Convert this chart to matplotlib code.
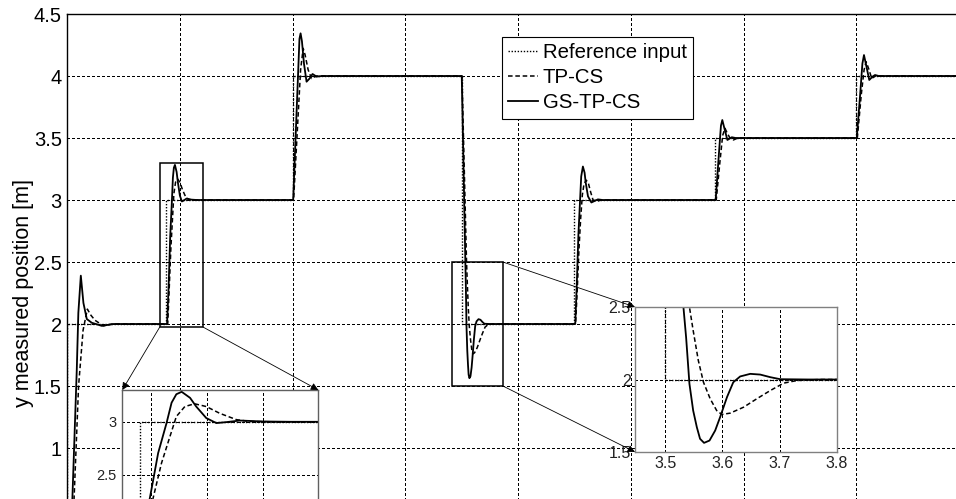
import matplotlib
matplotlib.use('Agg')
import matplotlib.pyplot as plt
from matplotlib.patches import Rectangle, ConnectionPatch
from matplotlib.ticker import FormatStrFormatter, FixedLocator

plt.rcParams['font.family'] = ['Liberation Sans', 'DejaVu Sans']

# ---------------- data ----------------
# reference input (step signal)
ref_t = [0.0, 0.0, 0.88, 2.0, 3.5, 4.5, 5.745, 7.0, 8.0]
ref_y = [0.0, 2.0, 3.0, 4.0, 2.0, 3.0, 3.5, 4.0, 4.0]

# GS-TP-CS (solid)
gs_t = [0.0, 0.02, 0.045, 0.084, 0.098, 0.12, 0.143, 0.173, 0.217, 0.306, 0.41,
        0.885, 0.8982, 0.913, 0.928, 0.937, 0.9455, 0.955, 0.970, 0.981, 0.999, 1.017, 1.035, 1.059, 1.10, 1.15,
        2.004, 2.06, 2.07, 2.082, 2.10, 2.123, 2.15, 2.176, 2.212, 2.26,
        3.50, 3.532, 3.5367, 3.5425, 3.549, 3.5554, 3.561, 3.568, 3.5775, 3.5874, 3.596, 3.608, 3.619,
        3.631, 3.6486, 3.666, 3.6836, 3.701, 3.75,
        4.507, 4.52, 4.535, 4.55, 4.56, 4.575, 4.59, 4.60, 4.62, 4.65, 4.708, 4.75,
        5.753, 5.78, 5.80, 5.812, 5.83, 5.857, 5.896, 5.93,
        7.005, 7.035, 7.055, 7.069, 7.09, 7.116, 7.145, 7.167, 7.2, 8.0]
gs_y = [0.0, 0.0, 0.59, 1.63, 2.09, 2.39, 2.17, 2.04, 2.01, 1.985, 2.0,
        2.0, 2.28, 2.705, 2.988, 3.18, 3.26, 3.283, 3.226, 3.144, 3.035, 2.988, 2.997, 3.012, 3.003, 3.0,
        3.0, 4.30, 4.344, 4.28, 4.10, 3.954, 3.98, 4.016, 3.995, 4.0,
        4.0, 2.5, 2.29, 1.97, 1.786, 1.671, 1.591, 1.563, 1.579, 1.648, 1.74, 1.878, 1.981,
        2.021, 2.039, 2.034, 2.016, 2.002, 2.0,
        2.0, 2.3, 2.72, 3.0, 3.19, 3.27, 3.22, 3.14, 3.03, 2.98, 3.005, 3.0,
        3.0, 3.35, 3.60, 3.645, 3.58, 3.484, 3.506, 3.5,
        3.5, 3.85, 4.10, 4.169, 4.08, 3.968, 3.995, 4.008, 4.0, 4.0]

# TP-CS (dashed)
tp_t = [0.0, 0.025, 0.06, 0.10, 0.14, 0.178, 0.21, 0.246, 0.32, 0.40,
        0.891, 0.904, 0.919, 0.934, 0.9455, 0.9607, 0.978, 0.999, 1.023, 1.053, 1.077, 1.12,
        2.008, 2.07, 2.093, 2.11, 2.137, 2.167, 2.212, 2.26,
        3.502, 3.5425, 3.549, 3.558, 3.567, 3.5787, 3.590, 3.599, 3.6136, 3.637, 3.660, 3.6836,
        3.707, 3.73, 3.77,
        4.51, 4.525, 4.54, 4.555, 4.57, 4.585, 4.605, 4.625, 4.645, 4.665, 4.70, 4.74,
        5.758, 5.79, 5.815, 5.836, 5.855, 5.88, 5.91, 5.95,
        7.01, 7.045, 7.07, 7.088, 7.11, 7.138, 7.17, 8.0]
tp_y = [0.0, 0.0, 0.59, 1.5, 1.95, 2.12, 2.07, 2.03, 1.985, 2.0,
        2.0, 2.28, 2.61, 2.86, 3.05, 3.144, 3.17, 3.144, 3.08, 3.02, 3.003, 3.0,
        3.0, 4.05, 4.223, 4.17, 4.05, 3.98, 4.0, 4.0,
        4.0, 2.5, 2.338, 2.131, 1.981, 1.867, 1.786, 1.759, 1.768, 1.809, 1.867, 1.924,
        1.975, 1.993, 2.0,
        2.0, 2.28, 2.6, 2.85, 3.04, 3.13, 3.16, 3.13, 3.06, 3.0, 2.99, 3.0,
        3.0, 3.3, 3.52, 3.578, 3.54, 3.5, 3.484, 3.5,
        3.5, 3.85, 4.05, 4.115, 4.06, 3.98, 4.0, 4.0]

labels = ['Reference input', 'TP-CS', 'GS-TP-CS']
yticks_main = [1, 1.5, 2, 2.5, 3, 3.5, 4, 4.5]
xticks_main = [0, 1, 2, 3, 4, 5, 6, 7, 8]

# zoom boxes (data coords) and inset ranges
box1 = (0.82, 1.975, 1.205, 3.30)
box2 = (3.41, 1.50, 3.865, 2.50)
ins1_xlim, ins1_ylim = (0.849, 1.199), (1.98, 3.30)
ins2_xlim, ins2_ylim = (3.4475, 3.8), (1.5, 2.5)
ins1_xticks, ins1_yticks = [0.9, 1.0, 1.1, 1.2], [2.5, 3]
ins2_xticks, ins2_yticks = [3.5, 3.6, 3.7, 3.8], [1.5, 2, 2.5]

# ---------------- figure ----------------
W, H = 956, 499
fig = plt.figure(figsize=(W / 100, H / 100), dpi=100)


def px_rect(l, t, r, b):
    return [l / W, 1 - b / H, (r - l) / W, (b - t) / H]


GRID = dict(color='k', linestyle=(0, (2.2, 2.2)), linewidth=0.7, antialiased=False)
REF_STYLE = dict(color='k', linestyle=(0, (1, 1.2)), linewidth=1.0, drawstyle='steps-post')
TP_STYLE = dict(color='k', linestyle=(0, (3, 1.8)), linewidth=1.1)
GS_STYLE = dict(color='k', linestyle='-', linewidth=1.3)


def draw_series(a):
    l1, = a.plot(ref_t, ref_y, **REF_STYLE)
    l2, = a.plot(tp_t, tp_y, **TP_STYLE)
    l3, = a.plot(gs_t, gs_y, **GS_STYLE)
    return l1, l2, l3


ax = fig.add_axes(px_rect(67.3, 14, 67.3 + 8 * 112.7, 572))
h = draw_series(ax)
ax.set_xlim(0, 8)
ax.set_ylim(0, 4.5)
ax.yaxis.set_major_locator(FixedLocator(yticks_main))
ax.xaxis.set_major_locator(FixedLocator(xticks_main))
ax.yaxis.set_major_formatter(FormatStrFormatter('%g'))
ax.grid(True, **GRID)
ax.tick_params(length=0, labelsize=14.5, pad=4)
ax.tick_params(axis='x', labelbottom=False)
for s in ax.spines.values():
    s.set_linewidth(1.0)
ax.set_ylabel('y measured position [m]', fontsize=15.5)
ax.yaxis.set_label_coords(-0.037, 0.5)

for (x0, y0, x1, y1) in (box1, box2):
    ax.add_patch(Rectangle((x0, y0), x1 - x0, y1 - y0, fill=False, ec='k', lw=1.1, zorder=5))

leg = ax.legend(h, labels, loc='upper left', bbox_to_anchor=(502 / W, 1 - 37 / H),
                bbox_transform=fig.transFigure, borderaxespad=0, fontsize=14.7,
                handlelength=1.45, handletextpad=0.25, borderpad=0.3, labelspacing=0.3,
                fancybox=False, framealpha=1, edgecolor='k')
leg.get_frame().set_linewidth(0.8)

# inset 1
ax1 = fig.add_axes(px_rect(122.3, 390, 318.3, 390 + (ins1_ylim[1] - ins1_ylim[0]) * 106))
draw_series(ax1)
ax1.set_xlim(*ins1_xlim)
ax1.set_ylim(*ins1_ylim)
ax1.xaxis.set_major_locator(FixedLocator(ins1_xticks))
ax1.yaxis.set_major_locator(FixedLocator(ins1_yticks))
ax1.yaxis.set_major_formatter(FormatStrFormatter('%g'))
ax1.grid(True, **GRID)
ax1.tick_params(length=0, labelsize=10.5, pad=4, labelcolor='#222222')
ax1.tick_params(axis='x', labelbottom=False)
for s in ax1.spines.values():
    s.set_color('#606060')
    s.set_linewidth(1.0)

# inset 2
ax2 = fig.add_axes(px_rect(635, 307, 837, 452))
draw_series(ax2)
ax2.set_xlim(*ins2_xlim)
ax2.set_ylim(*ins2_ylim)
ax2.xaxis.set_major_locator(FixedLocator(ins2_xticks))
ax2.yaxis.set_major_locator(FixedLocator(ins2_yticks))
ax2.yaxis.set_major_formatter(FormatStrFormatter('%g'))
ax2.xaxis.set_major_formatter(FormatStrFormatter('%g'))
ax2.grid(True, **GRID)
ax2.tick_params(length=0, labelsize=11.5, pad=3, labelcolor='#222222')
for s in ax2.spines.values():
    s.set_color('#808080')
    s.set_linewidth(1.0)

# connector arrows
conns = [((box1[0], box1[1]), ax1, (0, 1)),
         ((box1[2], box1[1]), ax1, (1, 1)),
         ((box2[2], box2[3]), ax2, (0, 1)),
         ((box2[2], box2[1]), ax2, (0, 0))]
for xyA, axB, xyB in conns:
    cp = ConnectionPatch(xyA=xyA, coordsA=ax.transData, xyB=xyB, coordsB=axB.transAxes,
                         arrowstyle='-|>', color='k', lw=0.6, mutation_scale=11,
                         shrinkA=0, shrinkB=0, zorder=10)
    fig.add_artist(cp)

fig.savefig('out.png', dpi=100)
